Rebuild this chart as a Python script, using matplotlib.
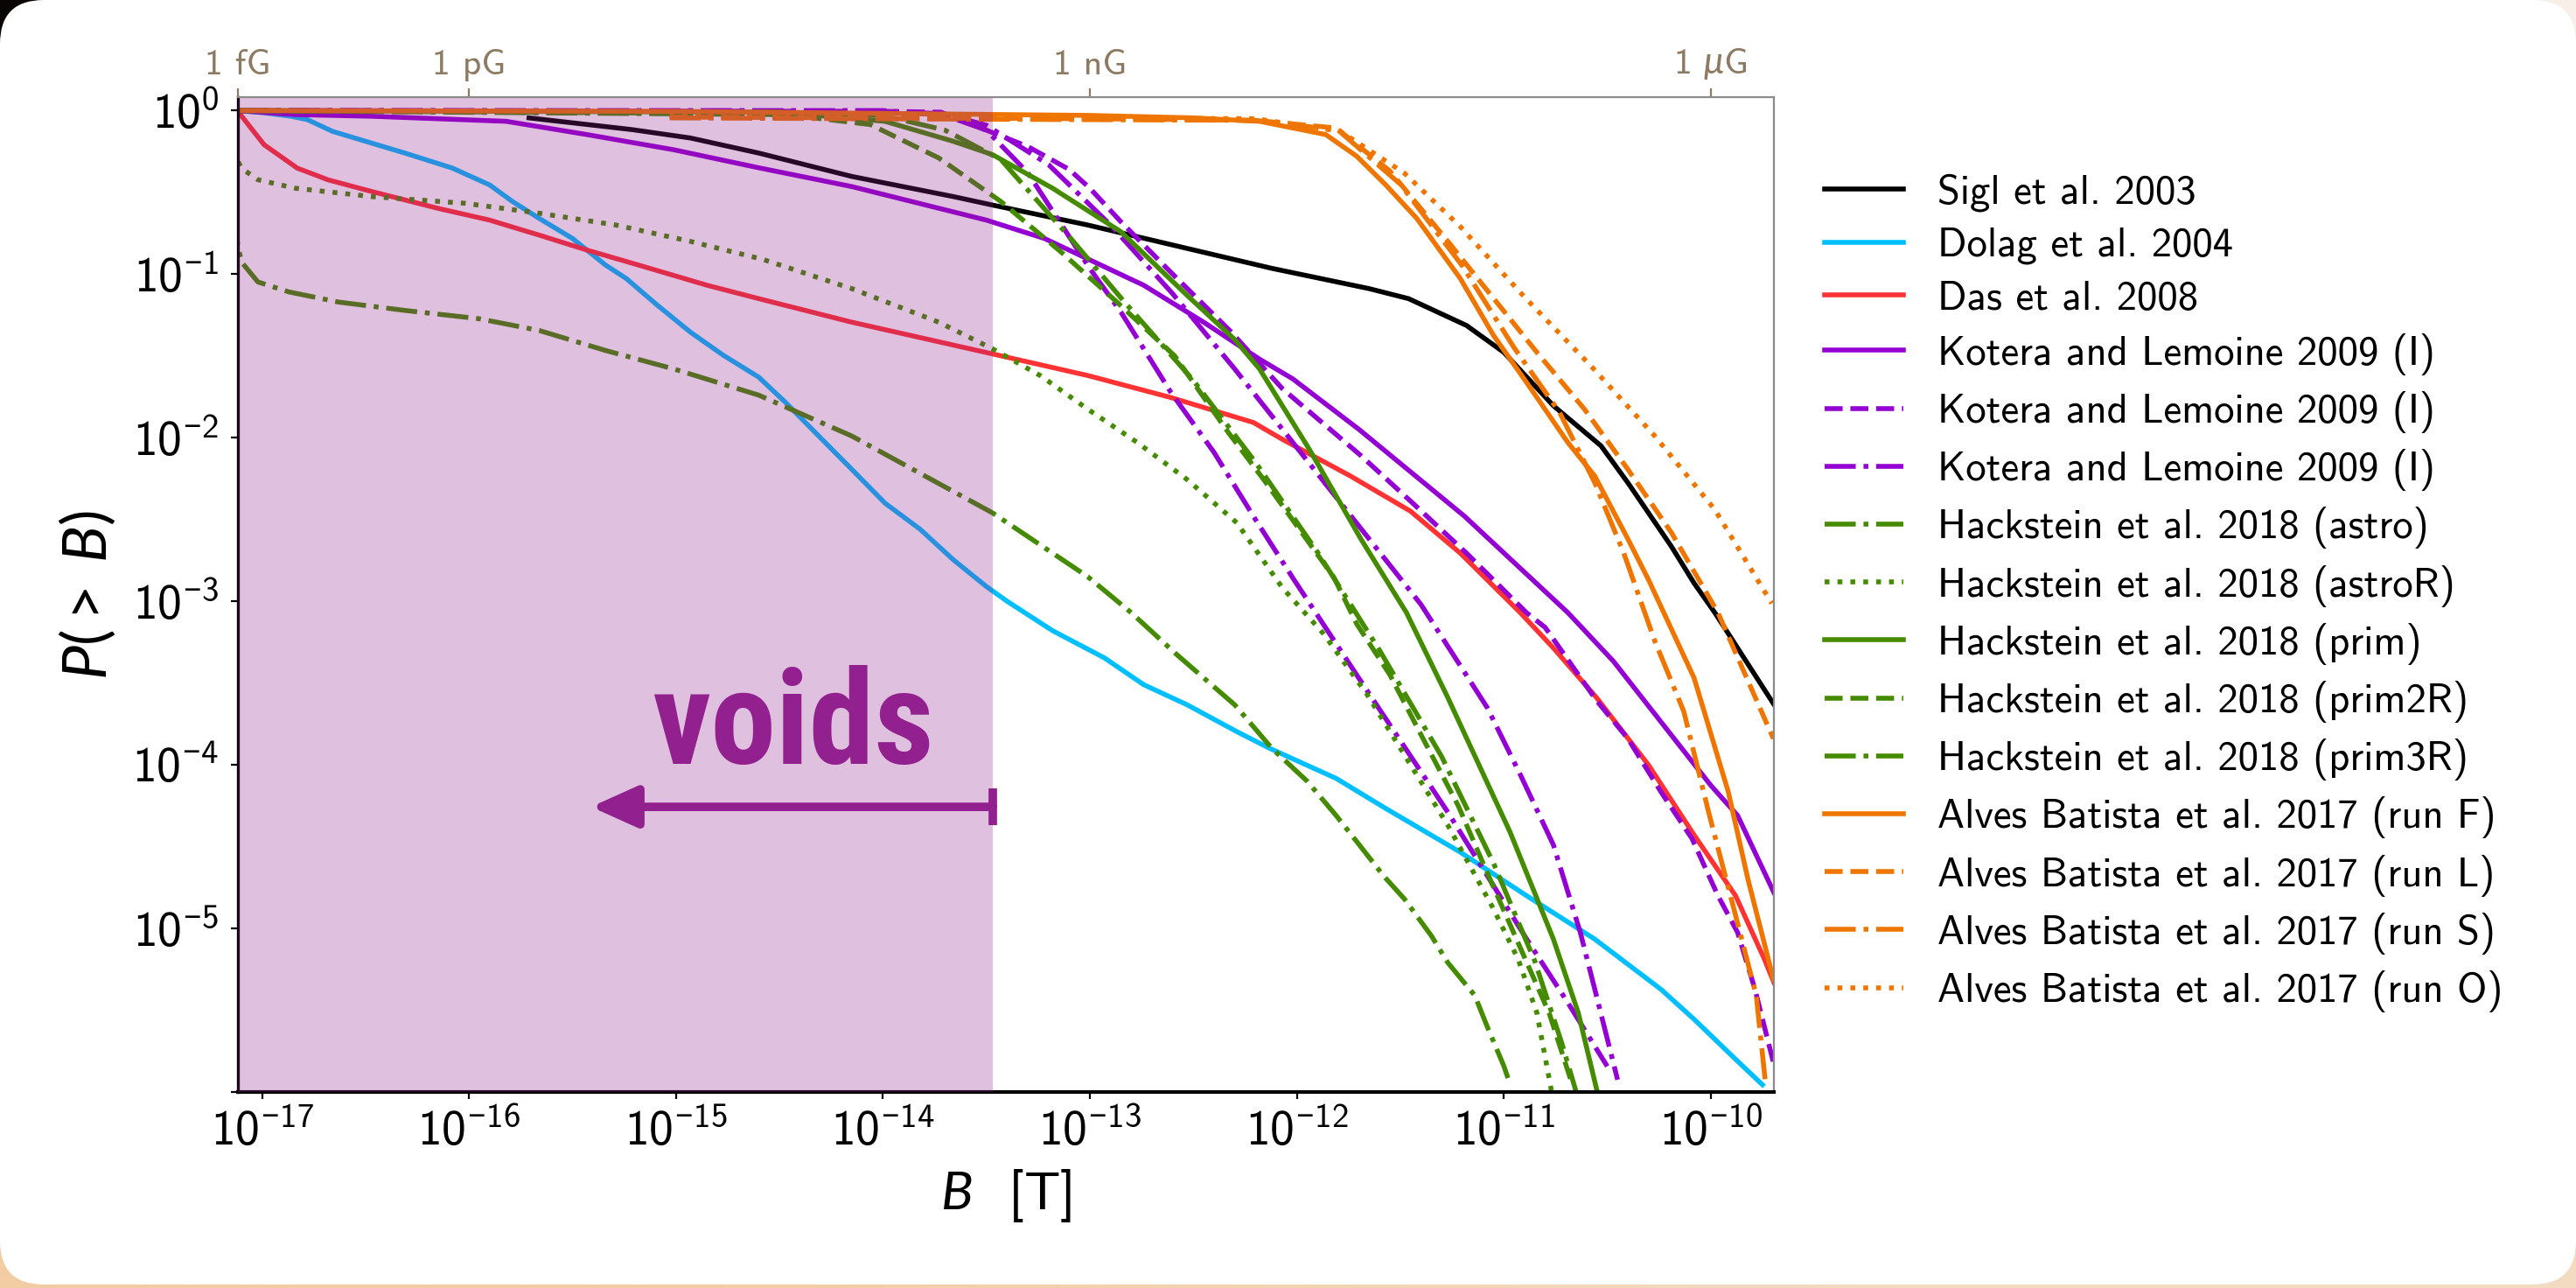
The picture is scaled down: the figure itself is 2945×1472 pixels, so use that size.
import numpy as np
import matplotlib
matplotlib.use('Agg')
import matplotlib.pyplot as plt
from matplotlib.patches import FancyBboxPatch
from matplotlib.ticker import NullLocator

plt.rcParams['font.family'] = ['cmss10', 'DejaVu Sans']
plt.rcParams['mathtext.fontset'] = 'custom'
plt.rcParams['mathtext.rm'] = 'Lato'
plt.rcParams['mathtext.sf'] = 'Lato'
plt.rcParams['mathtext.it'] = 'Lato:italic'
plt.rcParams['mathtext.fallback'] = 'cm'

# curves as (log10 B [T], log10 P(>B))
sigl_lb = [-15.71, -15.21, -14.93, -14.6, -14.15, -13.66, -13.47, -13.01, -12.53, -12.12,
           -11.65, -11.46, -11.18, -11.0, -10.76, -10.53, -10.40, -10.19, -10.08, -9.98, -9.695]
sigl_lp = [-0.045, -0.117, -0.168, -0.26, -0.403, -0.526, -0.578, -0.70, -0.843, -0.965,
           -1.089, -1.150, -1.314, -1.478, -1.805, -2.05, -2.276, -2.665, -2.89, -3.07, -3.63]

dolag_lb = [-17.12, -16.99, -16.86, -16.78, -16.66, -16.50, -16.31, -16.08, -15.90, -15.79,
            -15.66, -15.50, -15.34, -15.24, -15.09, -14.93, -14.77, -14.6, -14.47, -14.31,
            -14.15, -13.99, -13.82, -13.66, -13.50, -13.40, -13.18, -12.93, -12.74, -12.53,
            -12.29, -12.13, -11.81, -11.57, -11.21, -10.89, -10.56, -10.24, -10.08, -9.88, -9.75]
dolag_lp = [0.0, -0.014, -0.035, -0.056, -0.127, -0.188, -0.26, -0.352, -0.455, -0.556,
            -0.66, -0.782, -0.945, -1.027, -1.19, -1.355, -1.497, -1.63, -1.785, -1.99,
            -2.194, -2.40, -2.56, -2.746, -2.91, -3.0, -3.18, -3.346, -3.51, -3.633,
            -3.797, -3.90, -4.083, -4.267, -4.534, -4.80, -5.066, -5.373, -5.556, -5.80, -5.956]

das_lb = [-17.12, -16.99, -16.83, -16.68, -16.47, -16.15, -15.90, -15.66, -15.43, -15.18,
          -14.85, -14.6, -14.15, -13.47, -13.01, -12.61, -12.21, -12.07, -11.74, -11.45,
          -11.21, -10.92, -10.76, -10.55, -10.30, -10.08, -9.88, -9.74, -9.695]
das_lp = [0.0, -0.209, -0.352, -0.424, -0.495, -0.598, -0.67, -0.762, -0.853, -0.945,
          -1.068, -1.15, -1.294, -1.488, -1.62, -1.754, -1.907, -2.01, -2.235, -2.45,
          -2.706, -3.07, -3.286, -3.592, -4.002, -4.43, -4.80, -5.19, -5.33]

kot_lb = [-17.12, -16.84, -16.47, -15.82, -15.43, -15.01, -14.6, -14.15, -13.50, -13.22,
          -12.74, -12.45, -12.18, -12.02, -11.70, -11.19, -10.69, -10.47, -10.0, -9.87, -9.695]
kot_lp = [0.0, -0.025, -0.035, -0.066, -0.147, -0.24, -0.35, -0.465, -0.67, -0.782,
          -1.068, -1.294, -1.52, -1.64, -1.949, -2.48, -3.07, -3.367, -4.125, -4.31, -4.78]

kot_dash_lb = [-17.12, -14.0, -13.72, -13.5, -13.3, -13.1, -13.0, -12.85, -12.6, -12.32,
               -12.07, -11.69, -11.44, -11.18, -10.89, -10.80, -10.55, -10.40, -10.24, -10.09,
               -9.965, -9.87, -9.786, -9.697]
kot_dash_lp = [0.0, -0.005, -0.01, -0.12, -0.22, -0.36, -0.475, -0.68, -1.0, -1.35,
               -1.70, -2.11, -2.40, -2.706, -3.07, -3.16, -3.61, -3.84, -4.166, -4.452,
               -4.80, -5.025, -5.373, -5.82]

kot_dd_lb = [-17.12, -14.0, -13.7, -13.5, -13.2, -12.9, -12.6, -12.3, -12.0, -11.65,
             -11.40, -11.08, -10.92, -10.76, -10.63, -10.56, -10.45]
kot_dd_lp = [0.0, -0.005, -0.02, -0.09, -0.33, -0.70, -1.12, -1.58, -2.06, -2.62,
             -3.02, -3.65, -4.06, -4.49, -5.025, -5.373, -5.925]

kot_x_lb = [-17.12, -14.0, -13.7, -13.5, -13.3, -13.0, -12.85, -12.61, -12.40, -12.2,
            -12.02, -11.69, -11.27, -10.89, -10.69, -10.50]
kot_x_lp = [0.0, -0.0, -0.03, -0.12, -0.38, -0.966, -1.232, -1.72, -2.09, -2.5,
            -2.856, -3.49, -4.29, -5.064, -5.455, -5.843]

astro_lb = [-17.12, -17.12, -17.1, -17.02, -16.87, -16.63, -16.31, -15.95, -15.66, -15.34,
            -15.01, -14.6, -14.15, -13.47, -13.01, -12.80, -12.58, -12.30, -12.12, -11.95,
            -11.81, -11.71, -11.58, -11.48, -11.35, -11.27, -11.14, -11.08, -11.0, -10.97]
astro_lp = [0.0, -0.8, -0.925, -1.048, -1.109, -1.171, -1.222, -1.273, -1.345, -1.467,
            -1.58, -1.74, -1.99, -2.46, -2.85, -3.07, -3.326, -3.633, -3.90, -4.10,
            -4.31, -4.47, -4.68, -4.82, -5.045, -5.21, -5.41, -5.60, -5.84, -5.95]

astroR_lb = [-17.12, -17.12, -17.1, -17.02, -16.84, -16.47, -16.02, -15.66, -15.29, -14.93,
             -14.58, -14.15, -13.73, -13.47, -13.24, -13.01, -12.77, -12.53, -12.29, -12.07,
             -11.87, -11.66, -11.47, -11.27, -11.05, -10.93, -10.84, -10.77]
astroR_lp = [0.0, -0.3, -0.352, -0.423, -0.475, -0.526, -0.567, -0.628, -0.70, -0.80,
             -0.91, -1.089, -1.294, -1.457, -1.62, -1.826, -2.03, -2.256, -2.52, -2.917,
             -3.20, -3.57, -3.96, -4.37, -4.88, -5.19, -5.516, -5.99]

prim_lb = [-17.12, -14.5, -13.99, -13.66, -13.47, -13.18, -12.85, -12.53, -12.3, -12.18,
           -11.94, -11.69, -11.47, -11.27, -10.97, -10.76, -10.64, -10.55]
prim_lp = [0.0, -0.01, -0.066, -0.188, -0.27, -0.475, -0.741, -1.13, -1.40, -1.58,
           -2.07, -2.62, -3.07, -3.59, -4.41, -5.066, -5.516, -5.99]

prim2R_lb = [-17.12, -14.5, -14.06, -13.73, -13.43, -13.14, -12.87, -12.59, -12.33, -12.16,
             -11.82, -11.71, -11.55, -11.39, -11.22, -11.08, -10.93, -10.78, -10.67]
prim2R_lp = [0.0, -0.02, -0.086, -0.29, -0.556, -0.864, -1.17, -1.50, -1.97, -2.256,
             -2.856, -3.14, -3.45, -3.84, -4.25, -4.66, -5.09, -5.52, -5.95]

prim3R_lb = [-17.12, -14.0, -13.7, -13.43, -13.08, -12.84, -12.5, -12.2, -11.9, -11.6,
             -11.3, -11.05, -10.85, -10.72, -10.65]
prim3R_lp = [0.0, -0.03, -0.12, -0.30, -0.80, -1.16, -1.65, -2.15, -2.7, -3.3,
             -3.95, -4.6, -5.2, -5.7, -6.0]

runF_lb = [-17.12, -15.0, -13.0, -12.5, -12.18, -11.86, -11.71, -11.57, -11.42, -11.21,
           -11.05, -10.89, -10.69, -10.56, -10.40, -10.3, -10.08, -9.915, -9.82, -9.697]
runF_lp = [0.0, -0.005, -0.03, -0.045, -0.066, -0.147, -0.28, -0.455, -0.66, -1.027,
           -1.374, -1.662, -2.03, -2.235, -2.62, -2.87, -3.47, -4.166, -4.70, -5.31]

runL_lb = [-15.03, -13.0, -12.2, -11.81, -11.55, -11.27, -10.84, -10.61, -10.40, -10.19, -9.965, -9.697]
runL_lp = [-0.04, -0.05, -0.06, -0.107, -0.37, -0.80, -1.478, -1.826, -2.194, -2.58, -3.07, -3.84]

runS_lb = [-15.03, -12.2, -11.8, -11.5, -11.2, -10.95, -10.73, -10.56, -10.42, -10.27,
           -10.13, -10.01, -9.88, -9.78, -9.737]
runS_lp = [-0.045, -0.06, -0.12, -0.45, -0.95, -1.45, -1.846, -2.276, -2.706, -3.244,
           -3.674, -4.29, -4.92, -5.41, -5.925]

runO_lb = [-15.03, -12.2, -11.79, -11.48, -11.21, -10.90, -10.58, -10.27, -9.98, -9.705]
runO_lp = [-0.035, -0.05, -0.127, -0.383, -0.71, -1.14, -1.56, -1.99, -2.44, -3.013]

xlim_exp = (-17.116, -9.695)
ylim_exp = (-6.0, 0.082)
void_edge = 3.4e-14
top_ticks = ['1 fG', '1 pG', '1 nG', r'1 $\mu$G']

c_kot = '#9400d3'
c_hack = '#458b00'
c_alves = '#ee7600'
c_void = '#92208f'

series = [
    ('Sigl et al. 2003', sigl_lb, sigl_lp, 'black', '-'),
    ('Dolag et al. 2004', dolag_lb, dolag_lp, '#00bfff', '-'),
    ('Das et al. 2008', das_lb, das_lp, '#ff3333', '-'),
    ('Kotera and Lemoine 2009 (I)', kot_lb, kot_lp, c_kot, '-'),
    ('Kotera and Lemoine 2009 (I)', kot_dash_lb, kot_dash_lp, c_kot, '--'),
    ('Kotera and Lemoine 2009 (I)', kot_dd_lb, kot_dd_lp, c_kot, '-.'),
    ('_nolegend_', kot_x_lb, kot_x_lp, c_kot, '-.'),
    ('Hackstein et al. 2018 (astro)', astro_lb, astro_lp, c_hack, '-.'),
    ('Hackstein et al. 2018 (astroR)', astroR_lb, astroR_lp, c_hack, ':'),
    ('Hackstein et al. 2018 (prim)', prim_lb, prim_lp, c_hack, '-'),
    ('Hackstein et al. 2018 (prim2R)', prim2R_lb, prim2R_lp, c_hack, '--'),
    ('Hackstein et al. 2018 (prim3R)', prim3R_lb, prim3R_lp, c_hack, '-.'),
    ('Alves Batista et al. 2017 (run F)', runF_lb, runF_lp, c_alves, '-'),
    ('Alves Batista et al. 2017 (run L)', runL_lb, runL_lp, c_alves, '--'),
    ('Alves Batista et al. 2017 (run S)', runS_lb, runS_lp, c_alves, '-.'),
    ('Alves Batista et al. 2017 (run O)', runO_lb, runO_lp, c_alves, ':'),
]


def pow_label(e):
    # digits in the sans text face, minus sign from the math face
    sign = '-' if e < 0 else ''
    return r'$\mathdefault{10}^{%s\mathdefault{%d}}$' % (sign, abs(e))


W, H = 14.725, 7.36
fig = plt.figure(figsize=(W, H), dpi=200)

# slide background with rounded white card
bg = fig.add_axes([0, 0, 1, 1], zorder=-10)
grad = np.array([[[0.04, 0.02, 0.02], [0.97, 0.94, 0.91]],
                 [[0.95, 0.80, 0.64], [0.95, 0.86, 0.76]]])
bg.imshow(grad, extent=[0, 1, 0, 1], aspect='auto', interpolation='bilinear')
bg.axis('off')
card = FancyBboxPatch((0, 0.02), W, H - 0.02, boxstyle='round,pad=0,rounding_size=0.25',
                      transform=fig.dpi_scale_trans, fc='white', ec='none', zorder=-5)
fig.add_artist(card)

ax = fig.add_axes([0.0924, 0.1522, 0.5962, 0.7724])
for label, lb, lp, col, ls in series:
    ax.plot(10.0 ** np.array(lb), 10.0 ** np.array(lp), color=col, ls=ls, lw=2.0, label=label)

ax.set_xscale('log')
ax.set_yscale('log')
xlo, xhi = 10.0 ** xlim_exp[0], 10.0 ** xlim_exp[1]
ax.set_xlim(xlo, xhi)
ax.set_ylim(10.0 ** ylim_exp[0], 10.0 ** ylim_exp[1])

xe = np.arange(-17, -9)
ax.set_xticks(10.0 ** xe)
ax.set_xticklabels([pow_label(e) for e in xe])
ye = np.arange(-6, 1)
ax.set_yticks(10.0 ** ye)
ax.set_yticklabels(['' if e == -6 else pow_label(e) for e in ye])
ax.xaxis.set_minor_locator(NullLocator())
ax.yaxis.set_minor_locator(NullLocator())
ax.tick_params(direction='out', length=3, width=0.8, labelsize=20)
ax.tick_params(axis='x', pad=4)
ax.tick_params(axis='y', pad=5)

ax.spines['left'].set_linewidth(1.2)
ax.spines['bottom'].set_linewidth(1.5)
ax.spines['top'].set_visible(False)
ax.spines['right'].set_color('#8a8a8a')
ax.spines['right'].set_linewidth(0.8)

ax.set_xlabel(r'$B$  [T]', fontsize=22, labelpad=5)
ax.set_ylabel(r'$P(>\;B)$', fontsize=25, labelpad=6)

# voids region
ax.axvspan(xlo, void_edge, color=c_void, alpha=0.28, lw=0, zorder=10)
arrow_y = 10.0 ** -4.257
ax.annotate('', xy=(10.0 ** -15.41, arrow_y), xytext=(void_edge, arrow_y),
            arrowprops=dict(arrowstyle='-|>,head_length=1.0,head_width=0.45', color=c_void,
                            lw=3.5, mutation_scale=16, shrinkA=0, shrinkB=0), zorder=11)
ax.plot([void_edge], [arrow_y], marker='|', ms=15, mew=3.5, color=c_void, zorder=11)
ax.text(10.0 ** -15.115, 10.0 ** -3.995, 'voids', color=c_void, fontsize=54,
        family=['Roboto Condensed', 'Lato'], fontweight='bold',
        ha='left', va='baseline', zorder=11)

# top axis in Gauss
ax2 = ax.twiny()
ax2.set_xscale('log')
ax2.set_xlim(xlo, xhi)
ax2.set_xticks([xlo, 1e-16, 1e-13, 1e-10])
ax2.set_xticklabels(top_ticks)
ax2.xaxis.set_minor_locator(NullLocator())
ax2.tick_params(axis='x', direction='out', length=3.5, width=0.8, colors='#8c7b62',
                labelsize=15, pad=3)
for s in ['left', 'right', 'bottom']:
    ax2.spines[s].set_visible(False)
ax2.spines['top'].set_color('#8a8a8a')
ax2.spines['top'].set_linewidth(0.8)

ax.legend(loc='upper left', bbox_to_anchor=(0.7083, 0.8655), bbox_transform=fig.transFigure,
          frameon=False, fontsize=16.8, handlelength=1.93, handletextpad=0.84,
          labelspacing=0.39, borderpad=0, borderaxespad=0)

fig.savefig('out.png', dpi=200)
